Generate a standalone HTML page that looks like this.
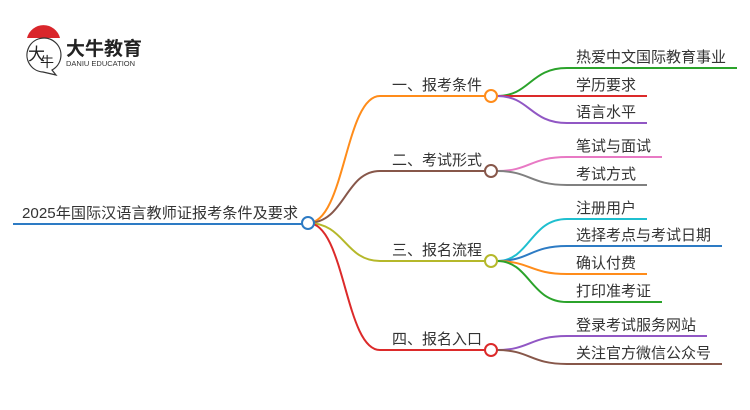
<!DOCTYPE html>
<html><head><meta charset="utf-8"><style>
html,body{margin:0;padding:0;background:#fff;}
svg{display:block;}
text{font-family:"Liberation Sans","Noto Sans CJK SC",sans-serif;fill:#333;}
</style></head><body>
<svg width="750" height="410" viewBox="0 0 750 410" xmlns="http://www.w3.org/2000/svg">
<!-- logo -->
<path d="M27 38 A17 17 0 0 1 60 38 Z" fill="#d9262b"/>
<path d="M43 72 A17 17 0 1 1 52 70 L56 75 Z" fill="none" stroke="#333" stroke-width="1.2"/>
<text x="28" y="60" font-size="17" style="fill:#222">大</text>
<text x="40" y="67" font-size="14" style="fill:#222">牛</text>
<text x="66" y="55" font-size="19" font-weight="bold" style="fill:#222">大牛教育</text>
<text x="66" y="66" font-size="7.5" style="fill:#333">DANIU EDUCATION</text>

<g fill="none" stroke-width="2">
<line x1="13" y1="224" x2="302" y2="224" stroke="#2d7bc4"/>
<path d="M308 223 C345 223 345 96 380 96 L485 96" stroke="#ff8c1a"/>
<path d="M308 223 C345 223 345 171 380 171 L485 171" stroke="#87574a"/>
<path d="M308 223 C345 223 345 261 380 261 L485 261" stroke="#b5b82a"/>
<path d="M308 223 C345 223 345 350 380 350 L485 350" stroke="#dc2a2a"/>

<path d="M497 96 C530 96 530 68 567 68 L737 68" stroke="#2ba32b"/>
<path d="M497 96 L647 96" stroke="#dc2a2a"/>
<path d="M497 96 C530 96 530 123 567 123 L647 123" stroke="#9157c4"/>
<path d="M497 171 C530 171 530 157 567 157 L662 157" stroke="#e879c4"/>
<path d="M497 171 C530 171 530 185 567 185 L647 185" stroke="#808080"/>
<path d="M497 261 C530 261 530 219 567 219 L647 219" stroke="#1fbfcf"/>
<path d="M497 261 C530 261 530 246 567 246 L722 246" stroke="#2d7bc4"/>
<path d="M497 261 C530 261 530 274 567 274 L647 274" stroke="#ff8c1a"/>
<path d="M497 261 C530 261 530 302 567 302 L662 302" stroke="#2ba32b"/>
<path d="M497 350 C530 350 530 336 567 336 L707 336" stroke="#9157c4"/>
<path d="M497 350 C530 350 530 364 567 364 L722 364" stroke="#87574a"/>

<circle cx="308" cy="223" r="6" stroke="#2d7bc4" fill="#fff"/>
<circle cx="491" cy="96" r="6" stroke="#ff8c1a" fill="#fff"/>
<circle cx="491" cy="171" r="6" stroke="#87574a" fill="#fff"/>
<circle cx="491" cy="261" r="6" stroke="#b5b82a" fill="#fff"/>
<circle cx="491" cy="350" r="6" stroke="#dc2a2a" fill="#fff"/>
</g>

<g font-size="15">
<text x="22" y="218" textLength="276" lengthAdjust="spacingAndGlyphs">2025年国际汉语言教师证报考条件及要求</text>
<text x="392" y="90">一、报考条件</text>
<text x="392" y="165">二、考试形式</text>
<text x="392" y="255">三、报名流程</text>
<text x="392" y="344">四、报名入口</text>
<text x="576" y="62">热爱中文国际教育事业</text>
<text x="576" y="90">学历要求</text>
<text x="576" y="117">语言水平</text>
<text x="576" y="151">笔试与面试</text>
<text x="576" y="179">考试方式</text>
<text x="576" y="213">注册用户</text>
<text x="576" y="240">选择考点与考试日期</text>
<text x="576" y="268">确认付费</text>
<text x="576" y="296">打印准考证</text>
<text x="576" y="330">登录考试服务网站</text>
<text x="576" y="358">关注官方微信公众号</text>
</g>
</svg>
</body></html>
